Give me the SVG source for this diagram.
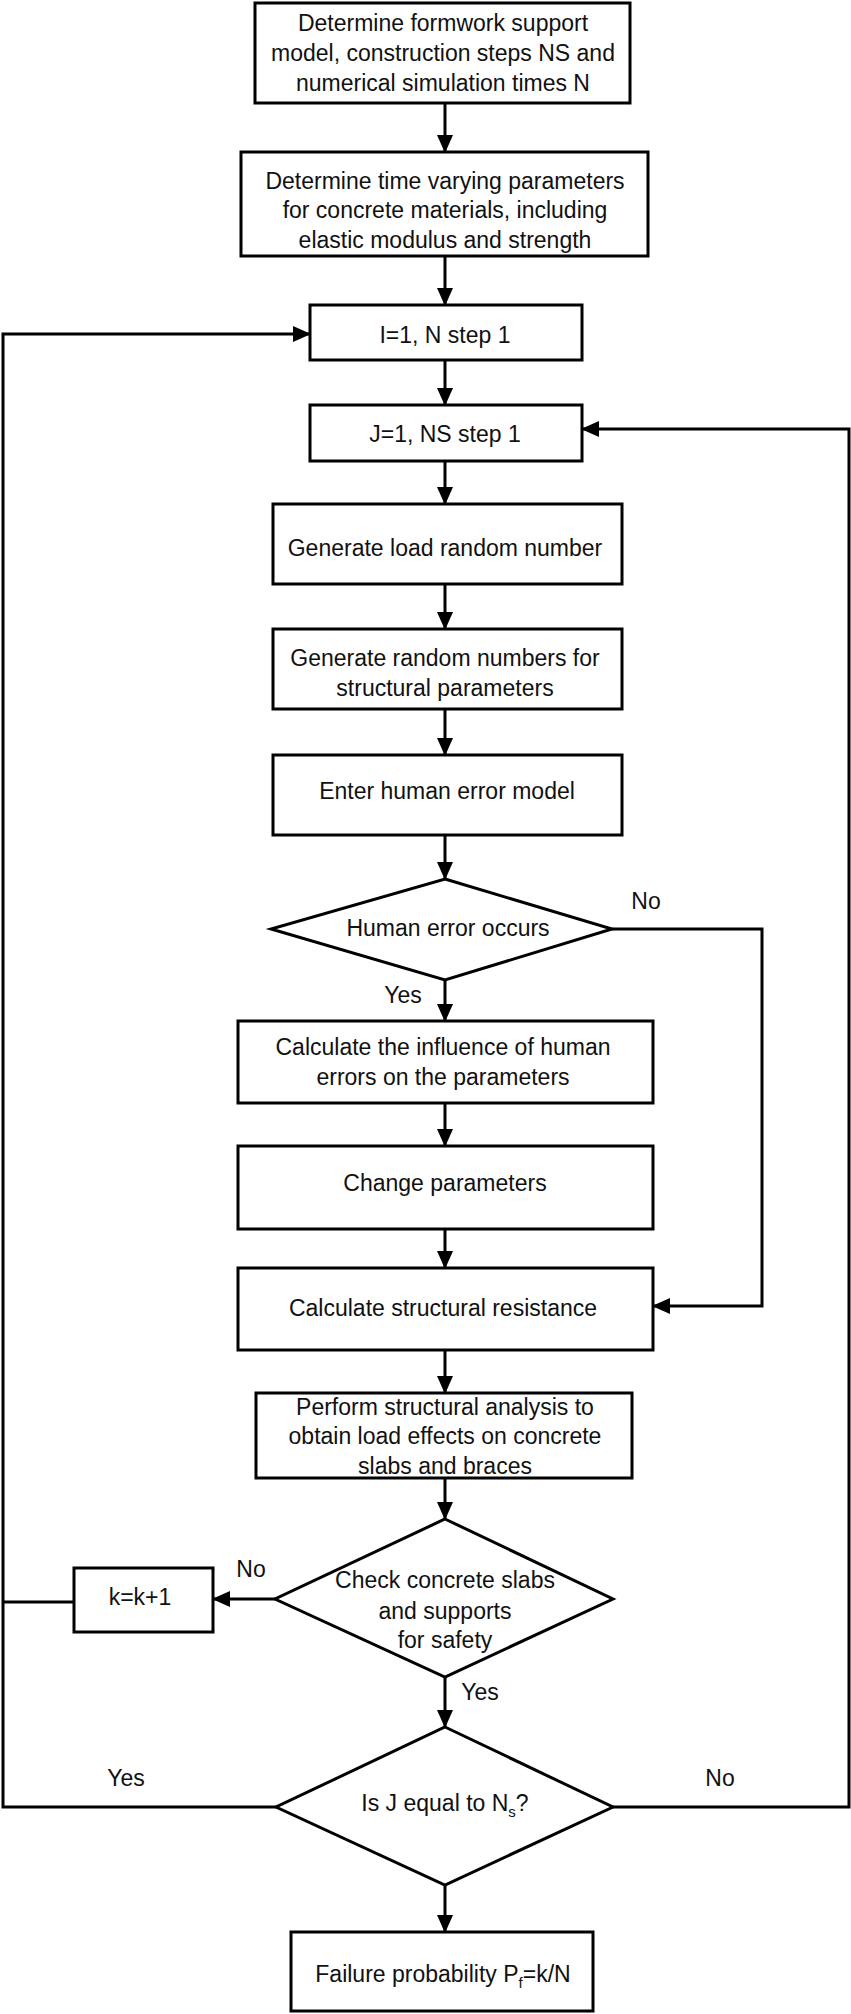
<svg xmlns="http://www.w3.org/2000/svg" width="851" height="2014" viewBox="0 0 851 2014">
<style>
.n{fill:#fff;stroke:#000;stroke-width:3}
.c{fill:none;stroke:#000;stroke-width:3}
text{font-family:"Liberation Sans",Arial,sans-serif;font-size:23px;fill:#111;text-anchor:middle}
</style>
<defs>
<marker id="h" markerWidth="18" markerHeight="18" refX="17" refY="9" orient="auto" markerUnits="userSpaceOnUse"><path d="M0,1L18,9L0,17Z" fill="#000"/></marker></defs>
<g id="connectors" class="c">
<path d="M445 103V152" marker-end="url(#h)"/>
<path d="M445 256V305" marker-end="url(#h)"/>
<path d="M445 360V405" marker-end="url(#h)"/>
<path d="M445 461V504" marker-end="url(#h)"/>
<path d="M445 584V629" marker-end="url(#h)"/>
<path d="M445 709V755" marker-end="url(#h)"/>
<path d="M445 835V879" marker-end="url(#h)"/>
<path d="M445 980V1021" marker-end="url(#h)"/>
<path d="M445 1103V1146" marker-end="url(#h)"/>
<path d="M445 1229V1268" marker-end="url(#h)"/>
<path d="M445 1350V1393" marker-end="url(#h)"/>
<path d="M445 1478V1519" marker-end="url(#h)"/>
<path d="M445 1677V1727" marker-end="url(#h)"/>
<path d="M445 1885V1932" marker-end="url(#h)"/>
<path d="M612 929H762V1306H653" marker-end="url(#h)"/>
<path d="M275 1599H213" marker-end="url(#h)"/>
<path d="M74 1602H3"/>
<path d="M276 1807H3V334H310" marker-end="url(#h)"/>
<path d="M613 1807H849V429H582" marker-end="url(#h)"/>
</g>
<g id="n1"><rect class="n" x="255" y="3" width="375" height="100"/><text x="443" y="31">Determine formwork support</text><text x="443" y="61">model, construction steps NS and</text><text x="443" y="91">numerical simulation times N</text></g>
<g id="n2"><rect class="n" x="241" y="152" width="407" height="104"/><text x="445" y="189">Determine time varying parameters</text><text x="445" y="218">for concrete materials, including</text><text x="445" y="248">elastic modulus and strength</text></g>
<g id="n3"><rect class="n" x="310" y="305" width="272" height="55"/><text x="445" y="343">I=1, N step 1</text></g>
<g id="n4"><rect class="n" x="310" y="405" width="272" height="56"/><text x="445" y="442">J=1, NS step 1</text></g>
<g id="n5"><rect class="n" x="273" y="504" width="349" height="80"/><text x="445" y="556">Generate load random number</text></g>
<g id="n6"><rect class="n" x="273" y="629" width="349" height="80"/><text x="445" y="666">Generate random numbers for</text><text x="445" y="696">structural parameters</text></g>
<g id="n7"><rect class="n" x="273" y="755" width="349" height="80"/><text x="447" y="799">Enter human error model</text></g>
<g id="n8"><path class="n" d="M445 879L612 929L445 980L271 929Z"/><text x="448" y="936">Human error occurs</text></g>
<text x="646" y="909">No</text>
<text x="403" y="1003">Yes</text>
<g id="n9"><rect class="n" x="238" y="1021" width="415" height="82"/><text x="443" y="1055">Calculate the influence of human</text><text x="443" y="1085">errors on the parameters</text></g>
<g id="n10"><rect class="n" x="238" y="1146" width="415" height="83"/><text x="445" y="1191">Change parameters</text></g>
<g id="n11"><rect class="n" x="238" y="1268" width="415" height="82"/><text x="443" y="1316">Calculate structural resistance</text></g>
<g id="n12"><rect class="n" x="256" y="1393" width="376" height="85"/><text x="445" y="1415">Perform structural analysis to</text><text x="445" y="1444">obtain load effects on concrete</text><text x="445" y="1474">slabs and braces</text></g>
<g id="n13"><path class="n" d="M445 1519L613 1599L445 1677L275 1599Z"/><text x="445" y="1588">Check concrete slabs</text><text x="445" y="1619">and supports</text><text x="445" y="1648">for safety</text></g>
<text x="251" y="1577">No</text>
<text x="480" y="1700">Yes</text>
<g id="n14"><rect class="n" x="74" y="1568" width="139" height="64"/><text x="140" y="1605">k=k+1</text></g>
<g id="n15"><path class="n" d="M445 1727L613 1807L445 1885L276 1807Z"/><text x="445" y="1811">Is J equal to N<tspan font-size="15" dy="6">s</tspan><tspan dy="-6">?</tspan></text></g>
<text x="126" y="1786">Yes</text>
<text x="720" y="1786">No</text>
<g id="n16"><rect class="n" x="291" y="1932" width="302" height="79"/><text x="443" y="1982">Failure probability P<tspan font-size="15" dy="6">f</tspan><tspan dy="-6">=k/N</tspan></text></g>
</svg>
